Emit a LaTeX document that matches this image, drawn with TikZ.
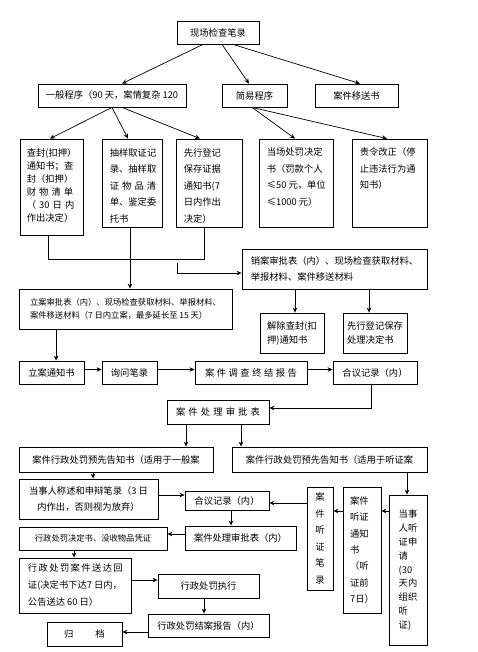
\documentclass[tikz,border=0pt]{standalone}
\usepackage{fontspec}
\setmainfont{Noto Sans CJK SC}
\usetikzlibrary{arrows.meta}
\newcommand\fs{\fontsize{9.3}{13}\selectfont}
\newcommand\mkbox[7]{\node[boxs,minimum width={#5-#3},minimum height={#6-#4},#2] (#1) at ({(#3+#5)/2},{(#4+#6)/2}) {#7};}
\begin{document}
\begin{tikzpicture}[x={(1pt,0pt)},y={(0pt,-1pt)},
 boxs/.style={draw,line width=0.8pt,inner sep=0pt,align=center,font=\fs},
 txt/.style={inner sep=0pt,anchor=north west,align=left},
 ln/.style={line width=0.7pt},
 arr/.style={line width=0.7pt,-{Stealth[length=5pt,width=4.5pt]}}]
\useasboundingbox (0,0) rectangle (478,652);
\fill[white] (0,0) rectangle (478,652);

% row 1-2
\mkbox{T}{}{177}{21}{259}{44}{现场检查笔录}
\mkbox{G}{}{38}{84}{186}{107}{一般程序（90 天，案情复杂 120}
\mkbox{J}{}{222}{84}{287}{107}{简易程序}
\mkbox{Y}{}{315}{84}{398}{107}{案件移送书}

% row 3
\mkbox{A}{}{20}{139}{83}{235}{}
\mkbox{B}{}{102}{139}{162}{227}{}
\mkbox{C}{}{176}{139}{242}{227}{}
\mkbox{D}{}{259}{139}{333}{227}{}
\mkbox{E}{}{352}{139}{427}{227}{}
\node[txt,font=\fontsize{9.3}{13}\selectfont,text width=50pt] (At) at ([xshift=7pt,yshift=-9.5pt]A.north west)
 {查封(扣押）\\通知书；查\\封（扣押）\\\makebox[50pt][s]{财 物 清 单}\\\makebox[50pt][s]{（ 30 日 内}\\作出决定）};
\node[txt,font=\fontsize{9.3}{16.5}\selectfont,text width=47pt] (Bt) at ([xshift=8pt,yshift=-9.5pt]B.north west)
 {抽样取证记\\录、抽样取\\\makebox[47pt][s]{证 物 品 清}\\单、鉴定委\\托书};
\node[txt,font=\fontsize{9.3}{16.5}\selectfont] (Ct) at ([xshift=8pt,yshift=-9.5pt]C.north west)
 {先行登记\\保存证据\\通知书(7\\日内作出\\决定）};
\node[txt,font=\fontsize{9.3}{16.5}\selectfont] (Dt) at ([xshift=8pt,yshift=-9pt]D.north west)
 {当场处罚决定\\书（罚款个人\\≤50 元，单位\\≤1000 元）};
\node[txt,font=\fontsize{9.3}{16.5}\selectfont] (Et) at ([xshift=8pt,yshift=-9pt]E.north west)
 {责令改正（停\\止违法行为通\\知书）};

% middle
\mkbox{XA}{align=left,font=\fontsize{9.3}{16}\selectfont}{242}{249}{427}{289}{销案审批表（内）、现场检查获取材料、\\举报材料、案件移送材料}
\mkbox{JC}{align=left,font=\fontsize{9.3}{14}\selectfont}{260}{313}{324}{353}{解除查封(扣\\押)通知书}
\mkbox{XD}{align=left,font=\fontsize{9.3}{14}\selectfont}{343}{313}{407}{353}{先行登记保存\\处理决定书}
\mkbox{LS}{align=left,font=\fontsize{8.3}{13.5}\selectfont}{19}{289}{232}{329}{立案审批表（内）、现场检查获取材料、举报材料、\\案件移送材料（7 日内立案，最多延长至 15 天）}

\mkbox{LT}{}{19}{361}{84}{384}{立案通知书}
\mkbox{XW}{}{102}{361}{157}{384}{询问笔录}
\mkbox{DC}{}{195}{361}{307}{384}{\makebox[92pt][s]{案 件 调 查 终 结 报 告}}
\mkbox{HY}{}{333}{361}{417}{384}{合议记录（内）}
\mkbox{SP}{}{167}{400}{269}{424}{\makebox[84pt][s]{案 件 处 理 审 批 表}}
\mkbox{YG}{}{19}{447}{213}{472}{案件行政处罚预先告知书（适用于一般案}
\mkbox{YT}{}{232}{447}{427}{472}{案件行政处罚预先告知书（适用于听证案}

% bottom
\mkbox{CS}{font=\fontsize{9.3}{15.5}\selectfont}{19}{479}{158}{519}{当事人称述和申辩笔录（3 日\\内作出，否则视为放弃）}
\mkbox{HY2}{}{185}{491}{269}{510}{合议记录（内）}
\mkbox{SP2}{}{185}{526}{296}{550}{案件处理审批表（内）}
\mkbox{JD}{font=\fontsize{8.3}{13}\selectfont}{19}{527}{167}{550}{行政处罚决定书、没收物品凭证}
\mkbox{SD}{align=left,font=\fontsize{9.3}{17}\selectfont}{19}{558}{131}{613}{\makebox[94pt][s]{行 政 处 罚 案 件 送 达 回}\\证(决定书下达7 日内，\\公告送达 60 日）}
\mkbox{ZX}{}{158}{574}{259}{598}{行政处罚执行}
\mkbox{JA}{}{148}{614}{269}{637}{行政处罚结案报告（内）}
\mkbox{GD}{}{47}{622}{122}{646}{归\hspace{22pt}档}
\mkbox{DR}{align=left,font=\fontsize{9.3}{13.8}\selectfont}{389}{495}{427}{645}{当事\\人听\\证申\\请\\(30\\天内\\组织\\听\\证)}
\mkbox{TZ}{align=left,font=\fontsize{9.3}{16.3}\selectfont}{343}{487}{381}{613}{案件\\听证\\通知\\书\\（听\\证前\\7日）}
\mkbox{BL}{font=\fontsize{9.3}{16.5}\selectfont}{307}{487}{333}{590}{案\\件\\听\\证\\笔\\录}

% connectors top
\draw[arr] ([xshift=-15pt]T.south) -- ([xshift=10pt]G.north);
\draw[arr] ([xshift=4pt]T.south) -- ([xshift=-5.5pt]J.north);
\draw[arr] ([xshift=15pt]T.south) -- ([xshift=3.5pt]Y.north);
\draw[arr] (G.south) -- ([xshift=-1.5pt]A.north);
\draw[arr] (G.south) -- ([xshift=-4pt]B.north);
\draw[arr] ([xshift=10pt]G.south) -- ([xshift=-9pt]C.north);
\draw[arr] ([xshift=-2.5pt]J.south) -- ([xshift=-1pt]D.north);
\draw[arr] ([xshift=-2.5pt]J.south) -- ([xshift=-2.5pt]E.north);

\coordinate (hR) at (204,259);
\coordinate (hM) at (177,263);
\draw[ln] ([xshift=-3.5pt]A.south) |- (hR) -- ([xshift=-5pt]C.south);
\draw[arr] ([xshift=-2pt]B.south) -- ([xshift=-2pt]B.south |- LS.north);
\draw[arr] (hM) |- ([yshift=-4pt]XA.west);
\draw[arr] ([xshift=-39.5pt]XA.south) -- ([xshift=-39.5pt]XA.south |- JC.north);
\draw[arr] ([xshift=34.5pt]XA.south) -- ([xshift=34.5pt]XA.south |- XD.north);
\draw[arr] ([xshift=-69.5pt]LS.south) -- ([xshift=-69.5pt]LS.south |- LT.north);
\draw[arr] ([yshift=3pt]LT.east) -- ([yshift=3pt]LT.east -| XW.west);
\draw[arr] ([yshift=3pt]XW.east) -- ([yshift=3pt]XW.east -| DC.west);
\draw[arr] ([yshift=3pt]DC.east) -- ([yshift=3pt]DC.east -| HY.west);
\draw[arr] ([xshift=-4pt]HY.south) |- ([yshift=4pt]SP.east);
\draw[arr] ([xshift=-32pt]SP.south) -- ([xshift=-32pt]SP.south |- YG.north);
\draw[arr] ([xshift=23pt]SP.south) -- ([xshift=23pt]SP.south |- YT.north);
\draw[arr] ([xshift=-23pt]YG.south) -- ([xshift=-23pt]YG.south |- CS.north);
\draw[arr] ([xshift=77.5pt]YT.south) -- ([xshift=77.5pt]YT.south |- DR.north);
\draw[arr] ([yshift=4pt]CS.east) -- ([yshift=4pt]CS.east -| HY2.west);
\draw[arr] ([yshift=-2.5pt]HY2.east -| BL.west) -- ([yshift=-2.5pt]HY2.east);
\draw[arr] ([xshift=4pt]HY2.south) -- ([xshift=4pt]HY2.south |- SP2.north);
\draw[arr] ([yshift=4pt]SP2.west) -- ([yshift=4pt]SP2.west -| JD.east);
\draw[arr] ([xshift=-19pt]JD.south) -- ([xshift=-19pt]JD.south |- SD.north);
\draw[arr] ([yshift=5.5pt]SD.east) -- ([yshift=5.5pt]SD.east -| ZX.west);
\draw[arr] ([xshift=-4.5pt]ZX.south) -- ([xshift=-4.5pt]ZX.south |- JA.north);
\draw[arr] ([yshift=-6.5pt]JA.west) -- ([yshift=-6.5pt]JA.west -| GD.east);
\draw[arr] ([yshift=59pt]DR.west) -- ([yshift=59pt]DR.west -| TZ.east);
\draw[arr] ([yshift=39pt]TZ.west) -- ([yshift=39pt]TZ.west -| BL.east);
\end{tikzpicture}
\end{document}
